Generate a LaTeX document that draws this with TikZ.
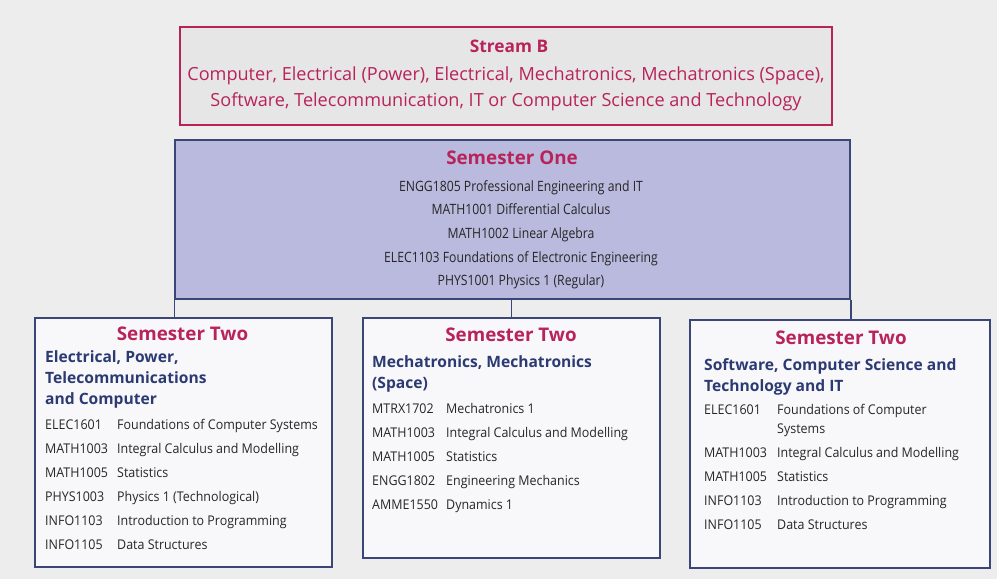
\documentclass[tikz,border=0pt]{standalone}
\usepackage{fontspec}
\setmainfont{Open Sans}
\newfontfamily\cond[FakeStretch=0.86]{Open Sans}
\newfontfamily\narrow[FakeStretch=0.93]{Open Sans}
\definecolor{pagebg}{HTML}{EDEDED}
\definecolor{crimson}{HTML}{B8235A}
\definecolor{navy}{HTML}{2B3A73}
\definecolor{boxline}{HTML}{3A4678}
\definecolor{lavender}{HTML}{B9BADD}
\definecolor{bodytext}{HTML}{262626}
\definecolor{streamfill}{HTML}{E6E6E6}
\definecolor{whitebox}{HTML}{F8F8FA}
\tikzset{
  streambox/.style={draw=crimson, line width=2.6pt, fill=streamfill, inner sep=0pt},
  semonebox/.style={draw=boxline, line width=1.6pt, fill=lavender, inner sep=0pt},
  semtwobox/.style={draw=boxline, line width=1.6pt, fill=whitebox, inner sep=0pt},
  link/.style={draw=boxline, line width=1.4pt},
  boxtitle/.style={text=crimson, font=\bfseries\fontsize{18.8}{22}\selectfont, inner sep=0pt, anchor=mid},
  streamtitle/.style={text=crimson, font=\bfseries\fontsize{17.3}{20}\selectfont, inner sep=0pt, anchor=mid},
  streamline/.style={text=crimson, font=\fontsize{18.1}{21}\selectfont, inner sep=0pt, anchor=mid},
  oneline/.style={text=bodytext, font=\cond\fontsize{14.2}{17}\selectfont, inner sep=0pt, anchor=mid},
  subhead/.style={text=navy, font=\bfseries\fontsize{15.6}{18}\selectfont, inner sep=0pt, anchor=mid west},
  course/.style={text=bodytext, font=\narrow\fontsize{13.4}{16}\selectfont, inner sep=0pt, anchor=mid west},
}
\begin{document}
\begin{tikzpicture}[x=1pt, y=-1pt]
\useasboundingbox (0,0) rectangle (997,579);
\fill[pagebg] (0,0) rectangle (997,579);

% boxes
\node[streambox, minimum width=652pt, minimum height=98pt] (sb) at (506,76) {};
\node[semonebox, minimum width=675pt, minimum height=159pt] (s1) at (512.5,219.5) {};
\node[semtwobox, minimum width=297pt, minimum height=249pt] (lb) at (183.5,442.5) {};
\node[semtwobox, minimum width=297pt, minimum height=240pt] (mb) at (511.5,438) {};
\node[semtwobox, minimum width=300pt, minimum height=248pt] (rb) at (840,444) {};

% connectors from semester one down to the three semester two boxes
\draw[link] (s1.south west) -- (s1.south west |- lb.north);
\draw[link] (mb.north) -- (mb.north |- s1.south);
\draw[link] (s1.south east) -- (s1.south east |- rb.north);

% stream B
\node[streamtitle] (sbt) at (509,50) {Stream B};
\node[streamline] (sb1) at (506,78) {Computer, Electrical (Power), Electrical, Mechatronics, Mechatronics (Space),};
\node[streamline] (sb2) at (506,104) {Software, Telecommunication, IT or Computer Science and Technology};

% semester one
\node[boxtitle] (s1t) at (512,162) {Semester One};
\foreach \y/\t in {189/ENGG1805 Professional Engineering and IT,
                   212/MATH1001 Differential Calculus,
                   236/MATH1002 Linear Algebra,
                   260/ELEC1103 Foundations of Electronic Engineering,
                   283/PHYS1001 Physics 1 (Regular)}
  \node[oneline] (s1l\y) at (521,\y) {\t};

% semester two: electrical stream
\node[boxtitle] (lbt) at (182.5,338) {Semester Two};
\node[subhead] (lbh1) at (45,360) {Electrical, Power,};
\node[subhead] (lbh2) at (45,381) {Telecommunications};
\node[subhead] (lbh3) at (45,402) {and Computer};
\foreach \y/\c/\t in {427/ELEC1601/Foundations of Computer Systems,
                      451/MATH1003/Integral Calculus and Modelling,
                      475/MATH1005/Statistics,
                      499/PHYS1003/Physics 1 (Technological),
                      523/INFO1103/Introduction to Programming,
                      547/INFO1105/Data Structures}{
  \node[course] (lc\y) at (45,\y) {\c};
  \node[course] (lt\y) at (117,\y) {\t};
}

% semester two: mechatronics stream
\node[boxtitle] (mbt) at (511,339) {Semester Two};
\node[subhead] (mbh1) at (372,365) {Mechatronics, Mechatronics};
\node[subhead] (mbh2) at (372,386) {(Space)};
\foreach \y/\c/\t in {411/MTRX1702/Mechatronics 1,
                      435/MATH1003/Integral Calculus and Modelling,
                      459/MATH1005/Statistics,
                      483/ENGG1802/Engineering Mechanics,
                      507/AMME1550/Dynamics 1}{
  \node[course] (mc\y) at (372,\y) {\c};
  \node[course] (mt\y) at (446,\y) {\t};
}

% semester two: software stream
\node[boxtitle] (rbt) at (841,342) {Semester Two};
\node[subhead] (rbh1) at (704,368) {Software, Computer Science and};
\node[subhead] (rbh2) at (704,389) {Technology and IT};
\foreach \y/\c/\t in {412/ELEC1601/Foundations of Computer,
                      431//Systems,
                      455/MATH1003/Integral Calculus and Modelling,
                      479/MATH1005/Statistics,
                      503/INFO1103/Introduction to Programming,
                      527/INFO1105/Data Structures}{
  \node[course] (rc\y) at (704,\y) {\c};
  \node[course] (rt\y) at (777,\y) {\t};
}
\end{tikzpicture}
\end{document}
